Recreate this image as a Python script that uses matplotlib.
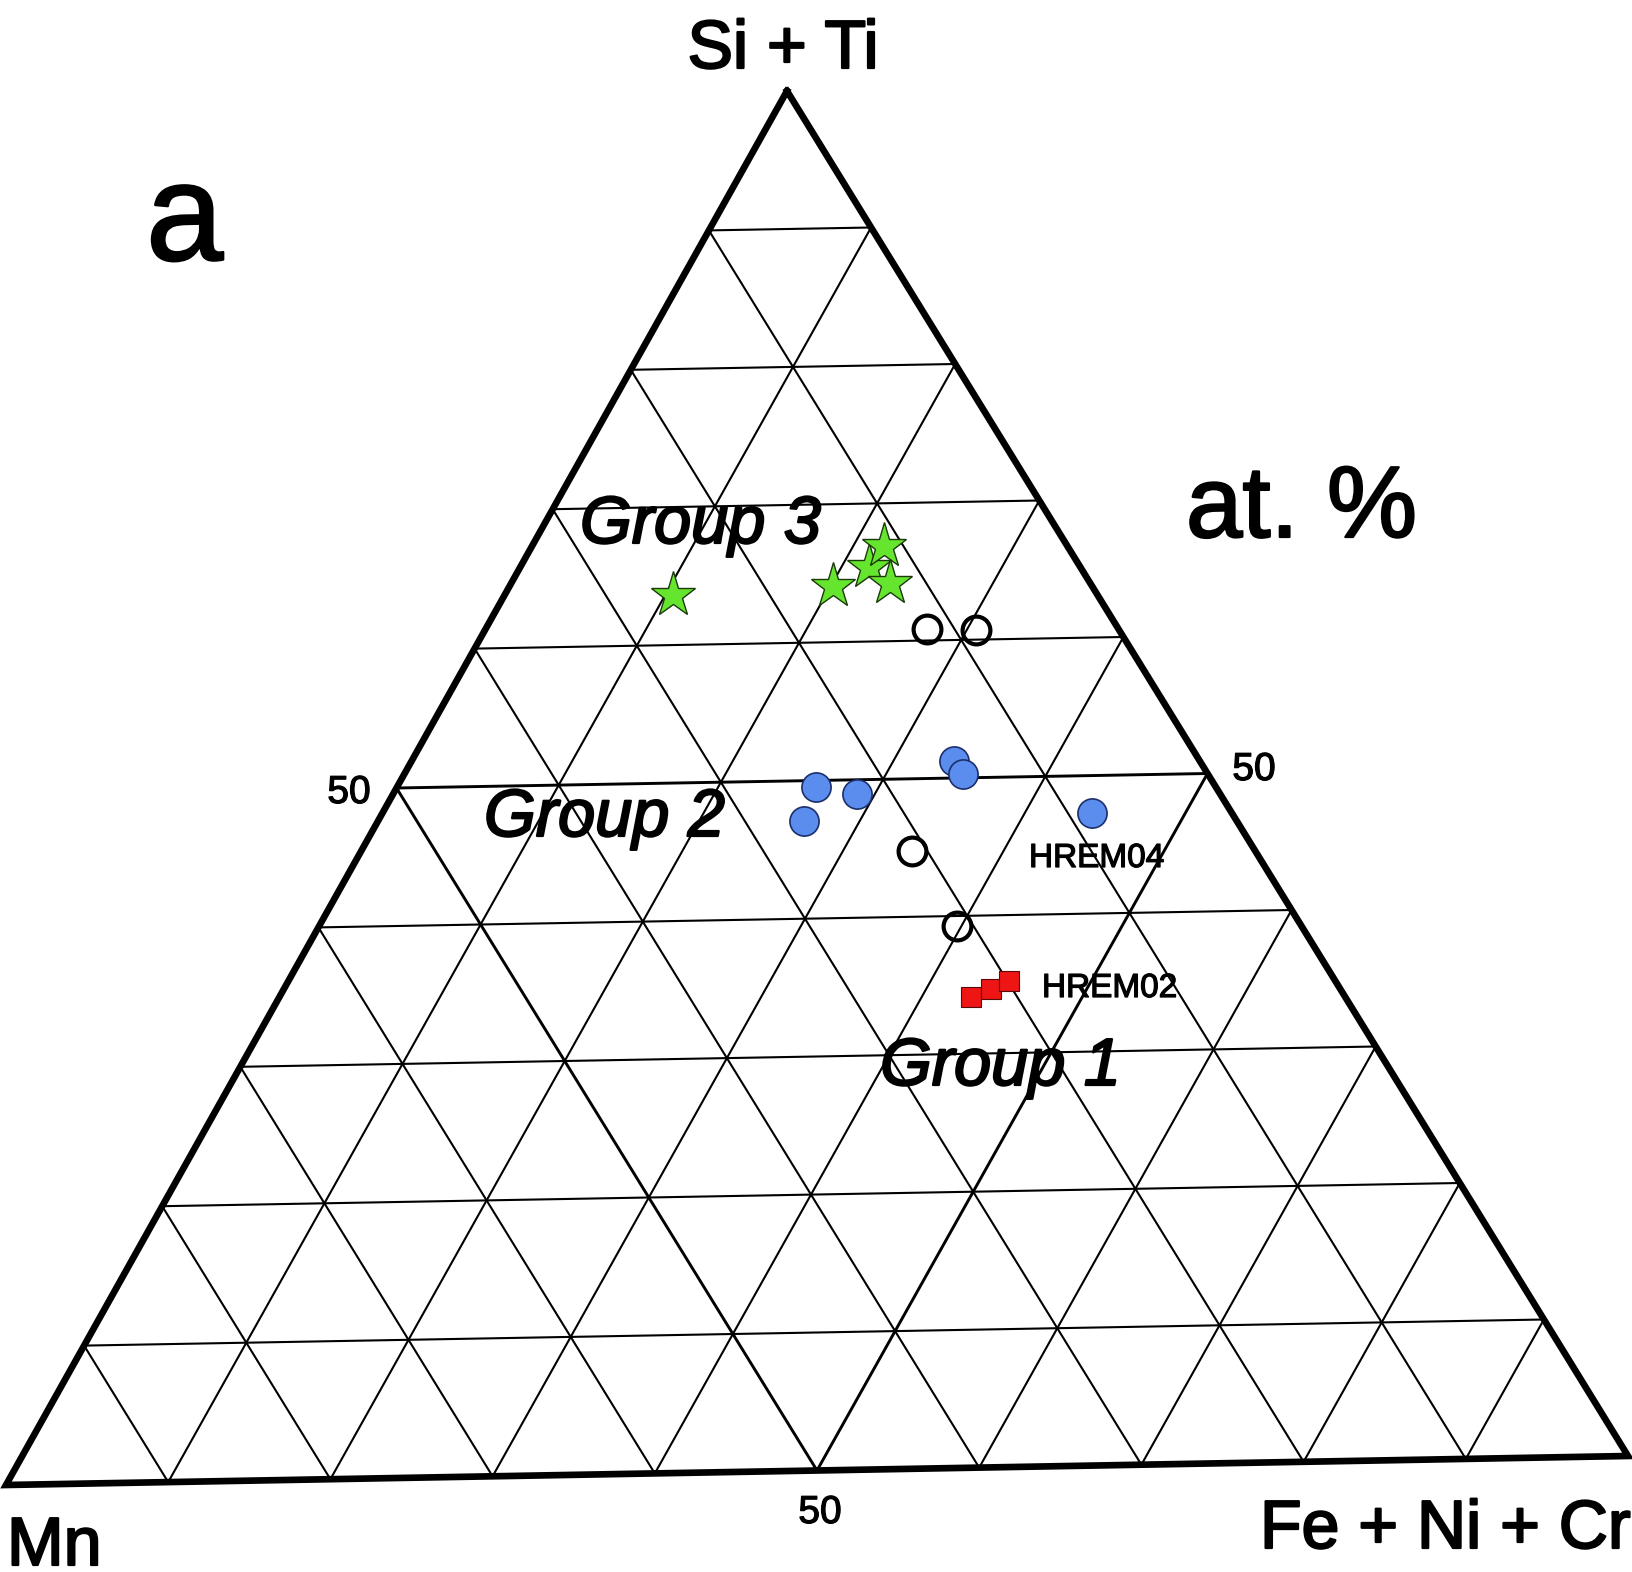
import numpy as np
import matplotlib
matplotlib.use("Agg")
import matplotlib.pyplot as plt
import matplotlib.patheffects as pe

plt.rcParams['font.family'] = ['Liberation Sans', 'DejaVu Sans']

# ternary compositions: (Si+Ti, Mn, Fe+Ni+Cr) fractions
group3_si = [0.636, 0.641, 0.654, 0.669, 0.642]
group3_fe = [0.105, 0.201, 0.217, 0.219, 0.236]

open_si = [0.608, 0.607, 0.448, 0.393]
open_fe = [0.275, 0.306, 0.343, 0.397]

group2_si = [0.512, 0.503, 0.495, 0.490, 0.471, 0.473]
group2_fe = [0.338, 0.348, 0.261, 0.289, 0.265, 0.442]

group1_si = [0.341, 0.347, 0.352]
group1_fe = [0.431, 0.440, 0.449]

grid_levels = [0.1, 0.2, 0.3, 0.4, 0.5, 0.6, 0.7, 0.8, 0.9]

# triangle corners in figure pixels (the drawing is slightly skewed)
TOP = np.array([787.0, 91.0])
LEFT = np.array([6.0, 1485.0])
RIGHT = np.array([1628.0, 1456.0])


def tern(si, fe):
    """map (Si+Ti, Fe+Ni+Cr) fractions to pixel coords"""
    si = np.asarray(si, dtype=float)
    fe = np.asarray(fe, dtype=float)
    p = LEFT[:, None] + np.outer(TOP - LEFT, si) + np.outer(RIGHT - LEFT, fe)
    return p[0], p[1]


fig = plt.figure(figsize=(16.32, 15.72), dpi=100)
ax = fig.add_axes([0, 0, 1, 1])
ax.set_xlim(0, 1632)
ax.set_ylim(1572, 0)
ax.axis('off')

# grid lines every 10 %
for g in grid_levels:
    lw = 2.1 if abs(g - 0.5) < 1e-9 else 1.5
    # constant Si+Ti
    x, y = tern([g, g], [0, 1 - g])
    ax.plot(x, y, color='black', lw=lw, zorder=1)
    # constant Fe+Ni+Cr
    x, y = tern([0, 1 - g], [g, g])
    ax.plot(x, y, color='black', lw=lw, zorder=1)
    # constant Mn
    x, y = tern([0, 1 - g], [1 - g, 0])
    ax.plot(x, y, color='black', lw=lw, zorder=1)

# outer triangle
x, y = tern([1, 0, 0, 1], [0, 0, 1, 0])
ax.plot(x, y, color='black', lw=4.8, solid_joinstyle='miter', zorder=2)

# data
x, y = tern(group3_si, group3_fe)
ax.plot(x, y, ls='none', marker='*', ms=34, mfc='#66e52e', mec='#1a3a0a',
        mew=1.0, zorder=4)

x, y = tern(open_si, open_fe)
ax.plot(x, y, ls='none', marker='o', ms=20, mfc='none', mec='black',
        mew=3.0, zorder=4)

x, y = tern(group2_si, group2_fe)
ax.plot(x, y, ls='none', marker='o', ms=21, mfc='#5b8def', mec='#1c2f6b',
        mew=1.2, zorder=4)

x, y = tern(group1_si, group1_fe)
ax.plot(x, y, ls='none', marker='s', ms=15, mfc='#ee1515', mec='#5a0a0a',
        mew=0.8, zorder=5)

# labels (a thin stroke thickens the glyphs like the scanned original)
heavy = [pe.withStroke(linewidth=1.6, foreground='black')]
light = [pe.withStroke(linewidth=0.9, foreground='black')]

ax.text(783, 68, 'Si + Ti', fontsize=49, ha='center', va='baseline', path_effects=heavy)
ax.text(7, 1565, 'Mn', fontsize=49, ha='left', va='baseline', path_effects=heavy)
ax.text(1260, 1548, 'Fe + Ni + Cr', fontsize=49, ha='left', va='baseline', path_effects=heavy)
ax.text(146, 260, 'a', fontsize=100, ha='left', va='baseline', path_effects=heavy)
ax.text(1186, 537, 'at. %', fontsize=73, ha='left', va='baseline', path_effects=heavy)

ax.text(349, 803, '50', fontsize=28, ha='center', va='baseline', path_effects=light)
ax.text(1254, 780, '50', fontsize=28, ha='center', va='baseline', path_effects=light)
ax.text(820, 1523, '50', fontsize=28, ha='center', va='baseline', path_effects=light)

ax.text(580, 543, 'Group 3', fontsize=48, style='italic', ha='left', va='baseline',
        zorder=3, path_effects=heavy)
ax.text(484, 836, 'Group 2', fontsize=48, style='italic', ha='left', va='baseline',
        zorder=3, path_effects=heavy)
ax.text(880, 1085, 'Group 1', fontsize=48, style='italic', ha='left', va='baseline',
        zorder=3, path_effects=heavy)

ax.text(1029, 867, 'HREM04', fontsize=24, ha='left', va='baseline', zorder=3, path_effects=light)
ax.text(1042, 997, 'HREM02', fontsize=24, ha='left', va='baseline', zorder=3, path_effects=light)

fig.savefig('out.png', dpi=100)
